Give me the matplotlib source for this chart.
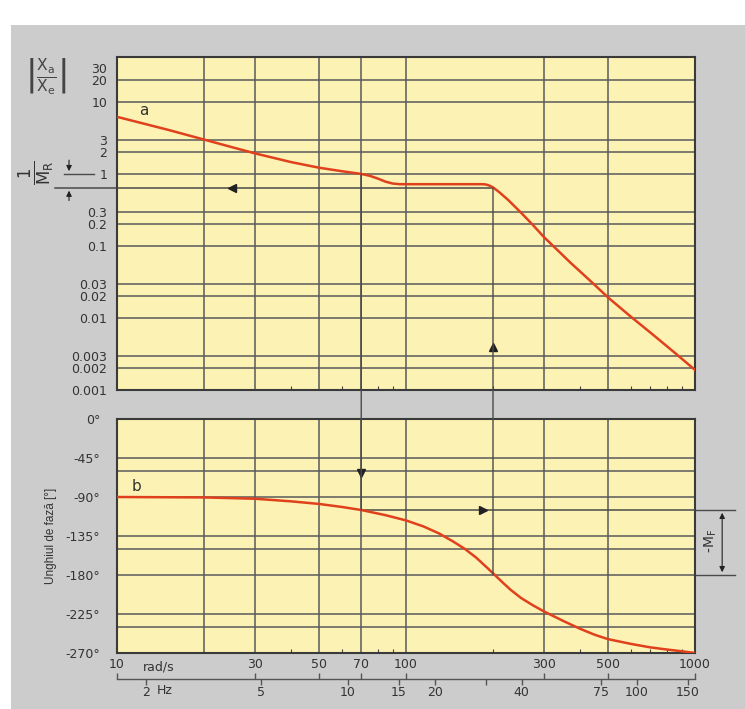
import numpy as np
import matplotlib
matplotlib.use("Agg")
import matplotlib.pyplot as plt
import matplotlib.transforms as mtransforms
from matplotlib.patches import ConnectionPatch, Rectangle
from matplotlib.ticker import FixedLocator, LogLocator, NullLocator, NullFormatter
from matplotlib import font_manager

# ---- data -------------------------------------------------------------
# amplitude response |Xa/Xe| versus angular frequency (rad/s)
omega_mag = [10, 12, 15, 20, 25, 30, 40, 50, 60, 70, 75, 80, 85, 90, 95, 100,
             150, 185, 190, 195, 200, 210, 225, 250, 275, 300, 340, 370, 430,
             500, 600, 700, 850, 1000]
magnitude = [6.2, 5.15, 4.1, 3.0, 2.35, 1.93, 1.46, 1.22, 1.09, 1.0, 0.94, 0.86,
             0.78, 0.735, 0.72, 0.72, 0.72, 0.72, 0.71, 0.685, 0.65, 0.56, 0.44,
             0.29, 0.195, 0.133, 0.082, 0.059, 0.034, 0.0193, 0.0104, 0.0063,
             0.0033, 0.0019]

# phase response in degrees
omega_ph = [10, 20, 30, 40, 50, 60, 70, 85, 100, 115, 130, 145, 160, 175, 190,
            200, 215, 230, 250, 275, 300, 350, 400, 450, 500, 600, 700, 800, 900,
            1000]
phase = [-90, -90.5, -92, -95, -98, -101.5, -105, -111, -117, -124, -132, -141,
         -150, -160, -171, -178, -188, -197, -206.5, -215, -222, -233, -242,
         -249, -254, -259.5, -263.5, -266, -268, -270]

# reading points of the construction
w_cross = 70          # |Xa/Xe| = 1
mag_cross = 1.0
phase_cross = -105    # phase at w_cross
w_corner = 200        # phase reaches -180 deg
mr_level = 0.64       # 1/M_R level

# axes ticks
mag_ticks = [30, 20, 10, 3, 2, 1, 0.3, 0.2, 0.1, 0.03, 0.02, 0.01, 0.003, 0.002, 0.001]
mag_labels = ["30", "20", "10", "3", "2", "1", "0.3", "0.2", "0.1", "0.03",
              "0.02", "0.01", "0.003", "0.002", "0.001"]
mag_grid = [20, 10, 3, 2, 1, 0.3, 0.2, 0.1, 0.03, 0.02, 0.01, 0.003, 0.002]
phase_ticks = [0, -45, -90, -135, -180, -225, -270]
phase_labels = ["0°", "-45°", "-90°", "-135°", "-180°", "-225°", "-270°"]
phase_grid = [-45, -60, -90, -135, -150, -180, -225, -240]
omega_grid = [20, 30, 50, 70, 100, 300, 500]
rad_ticks = [10, 30, 50, 70, 100, 300, 500, 1000]
rad_labels = ["10", "30", "50", "70", "100", "300", "500", "1000"]
hz_ticks = [2, 5, 10, 15, 20, 30, 40, 75, 100, 150]
hz_labels = ["2", "5", "10", "15", "20", "", "40", "75", "100", "150"]

# ---- style ------------------------------------------------------------
BG = "#cccccc"
PAPER = "#fcf2b4"
GRID = "#5a5a5a"
INK = "#333333"
CURVE = "#e0401c"

installed = {f.name for f in font_manager.fontManager.ttflist}
narrow = ["Liberation Sans Narrow", "Liberation Sans"] if "Liberation Sans Narrow" in installed else ["Liberation Sans"]

plt.rcParams["font.family"] = ["DejaVu Sans"]
plt.rcParams["mathtext.fontset"] = "custom"
plt.rcParams["mathtext.rm"] = "DejaVu Sans"
plt.rcParams["mathtext.it"] = "DejaVu Sans"

W, H = 745, 709
fig = plt.figure(figsize=(W / 100, H / 100), dpi=100)
fig.patch.set_facecolor("white")
fig.add_artist(Rectangle((11 / W, 0), 1 - 11 / W, 1 - 25 / H, transform=fig.transFigure,
                         facecolor=BG, edgecolor="none", zorder=-10))


def box(l, t, r, b):
    return [l / W, 1 - b / H, (r - l) / W, (b - t) / H]


ax1 = fig.add_axes(box(117, 57, 695, 390))
ax2 = fig.add_axes(box(117, 419, 695, 653))

for ax in (ax1, ax2):
    ax.set_facecolor(PAPER)
    ax.set_xscale("log")
    ax.set_xlim(10, 1000)
    for s in ax.spines.values():
        s.set_color("#3a3a3a")
        s.set_linewidth(1.5)
    ax.xaxis.set_major_locator(FixedLocator(omega_grid))
    ax.xaxis.set_minor_locator(LogLocator(base=10, subs=np.arange(2, 10)))
    ax.xaxis.set_major_formatter(NullFormatter())
    ax.xaxis.set_minor_formatter(NullFormatter())
    ax.tick_params(axis="x", which="major", length=0)
    ax.tick_params(axis="x", which="minor", direction="in", length=3, width=0.8,
                   color="#444444", bottom=True, top=False)
    ax.tick_params(axis="y", which="both", length=0, labelcolor=INK, labelsize=9)
    for w in omega_grid:
        ax.axvline(w, color=GRID, lw=1.1, zorder=1)

# ---- amplitude plot ---------------------------------------------------
ax1.set_yscale("log")
ax1.set_ylim(0.001, 42)
ax1.yaxis.set_major_locator(FixedLocator(mag_ticks))
ax1.yaxis.set_minor_locator(NullLocator())
ax1.set_yticklabels(mag_labels)
ax1.tick_params(axis="y", pad=7)
for v in mag_grid:
    ax1.axhline(v, color=GRID, lw=1.1, zorder=1)
ax1.plot(omega_mag, magnitude, color=CURVE, lw=1.8, zorder=4,
         solid_joinstyle="round")
ax1.text(12.4, 7.6, "a", fontsize=11, color=INK, ha="center", va="center")

# ---- phase plot -------------------------------------------------------
ax2.set_ylim(-270, 0)
ax2.yaxis.set_major_locator(FixedLocator(phase_ticks))
ax2.yaxis.set_minor_locator(NullLocator())
ax2.set_yticklabels(phase_labels)
ax2.tick_params(axis="y", pad=12)
for v in phase_grid:
    ax2.axhline(v, color=GRID, lw=1.1, zorder=1)
ax2.plot(omega_ph, phase, color=CURVE, lw=1.8, zorder=4, solid_joinstyle="round")
ax2.text(11.7, -78, "b", fontsize=11, color=INK, ha="center", va="center")
ax2.set_ylabel("Unghiul de fază [°]", family=narrow, fontsize=8.5, color=INK, labelpad=6)

# ---- construction lines ----------------------------------------------
LINE = "#4a4a4a"
t1 = mtransforms.blended_transform_factory(ax1.transAxes, ax1.transData)
t2 = mtransforms.blended_transform_factory(ax2.transAxes, ax2.transData)

# 1/M_R level, inside and left of the plot
ax1.plot([10, w_corner], [mr_level, mr_level], color=LINE, lw=1.1, zorder=3)
ax1.plot([-0.107, 0], [mr_level, mr_level], color=LINE, lw=1.1, transform=t1, clip_on=False)
ax1.plot([-0.092, -0.04], [1, 1], color=LINE, lw=1.0, transform=t1, clip_on=False)
ax1.plot([25], [mr_level], marker="<", ms=6, color="#222222", zorder=5)
arrow_kw = dict(arrowstyle="-|>", color="#222222", lw=0.8, mutation_scale=8)
ax1.annotate("", xy=(-0.083, 1.0), xytext=(-0.083, 1.7), xycoords=t1, textcoords=t1,
             arrowprops=arrow_kw, annotation_clip=False)
ax1.annotate("", xy=(-0.083, mr_level), xytext=(-0.083, 0.39), xycoords=t1, textcoords=t1,
             arrowprops=arrow_kw, annotation_clip=False)
ax1.text(-0.138, 1.05, r"$\frac{1}{M_R}$", transform=t1, rotation=90, fontsize=17,
         color=INK, ha="center", va="center")
fig.text(46 / W, 1 - 76 / H, r"$\left|\frac{X_a}{X_e}\right|$", fontsize=16,
         color="#444444", ha="center", va="center")

# vertical links between the two diagrams
fig.add_artist(ConnectionPatch(xyA=(w_cross, mag_cross), coordsA=ax1.transData,
                               xyB=(w_cross, phase_cross), coordsB=ax2.transData,
                               color=LINE, lw=1.0, zorder=6))
fig.add_artist(ConnectionPatch(xyA=(w_corner, mr_level), coordsA=ax1.transData,
                               xyB=(w_corner, -180), coordsB=ax2.transData,
                               color=LINE, lw=1.0, zorder=6))
ax2.plot([w_cross], [-62], marker="v", ms=6, color="#222222", zorder=7)
ax1.plot([w_corner], [0.004], marker="^", ms=6, color="#222222", zorder=7)

# phase margin
ax2.plot([w_cross, 1000], [phase_cross, phase_cross], color=LINE, lw=1.1, zorder=3)
ax2.plot([1, 1.069], [phase_cross, phase_cross], color=LINE, lw=1.0, transform=t2, clip_on=False)
ax2.plot([1, 1.069], [-180, -180], color=LINE, lw=1.0, transform=t2, clip_on=False)
ax2.plot([185], [phase_cross], marker=">", ms=6, color="#222222", zorder=5)
ax2.annotate("", xy=(1.047, phase_cross), xytext=(1.047, -180), xycoords=t2, textcoords=t2,
             arrowprops=dict(arrowstyle="<|-|>", color="#222222", lw=0.8, mutation_scale=8),
             annotation_clip=False)
ax2.text(1.027, -141, r"-M$_F$", transform=t2, rotation=90, fontsize=10, color=INK,
         ha="center", va="center")

# ---- frequency scale: rad/s above, Hz below ---------------------------
ax3 = fig.add_axes(box(117, 679, 695, 679.01))
ax3.set_xscale("log")
ax3.set_xlim(10, 1000)
ax3.patch.set_visible(False)
for name, s in ax3.spines.items():
    s.set_visible(name == "bottom")
ax3.spines["bottom"].set_color("#555555")
ax3.spines["bottom"].set_linewidth(1.0)
ax3.set_yticks([])
ax3.xaxis.set_major_locator(FixedLocator(rad_ticks))
ax3.xaxis.set_minor_locator(NullLocator())
ax3.set_xticklabels(rad_labels)
ax3.tick_params(axis="x", which="major", top=True, bottom=False, labeltop=True,
                labelbottom=False, direction="out", length=4, width=1.0, color="#555555",
                labelsize=9, labelcolor=INK, pad=2)

sec = ax3.secondary_xaxis("bottom", functions=(lambda w: w / (2 * np.pi),
                                                lambda f: f * 2 * np.pi))
sec.set_xticks(hz_ticks)
sec.set_xticklabels(hz_labels)
sec.xaxis.set_minor_locator(NullLocator())
sec.spines["bottom"].set_visible(False)
sec.tick_params(axis="x", which="major", direction="out", length=4, width=1.0,
                color="#555555", labelsize=9, labelcolor=INK, pad=1)

fig.text(143 / W, 1 - 667 / H, "rad/s", fontsize=9, color=INK, ha="left", va="center")
fig.text(157 / W, 1 - 691 / H, "Hz", fontsize=9, color=INK, ha="left", va="center")

fig.savefig("out.png", dpi=100, facecolor=fig.get_facecolor())
